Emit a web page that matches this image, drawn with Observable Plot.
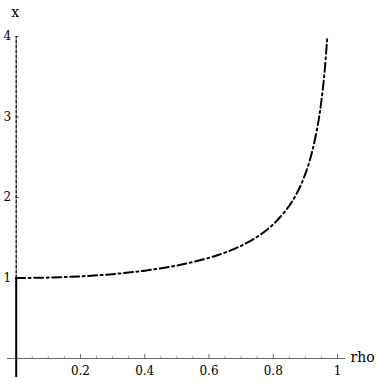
<!DOCTYPE html>
<html>
<head>
<meta charset="utf-8">
<script src="https://cdn.jsdelivr.net/npm/d3@7"></script>
<script src="https://cdn.jsdelivr.net/npm/@observablehq/plot@0.6"></script>
<style>
  html, body { margin: 0; padding: 0; background: #fff; }
  svg { display: block; }
</style>
</head>
<body>
<div id="chart"></div>
<script>
// Curve values
const rho = [0, 0.1, 0.2, 0.3, 0.4, 0.5, 0.6, 0.65, 0.7, 0.75, 0.8, 0.85, 0.88, 0.9, 0.92, 0.94, 0.95, 0.96, 0.968];
const xval = [1, 1.005, 1.021, 1.048, 1.091, 1.155, 1.25, 1.316, 1.4, 1.512, 1.667, 1.898, 2.105, 2.294, 2.552, 2.931, 3.203, 3.571, 3.985];

// Vertical segments at rho = 0
const solidSeg = [-0.22, 1];   // x from below axis to 1
const dashedSeg = [1, 4];      // x from 1 to 4

const xMajor = [0.2, 0.4, 0.6, 0.8, 1];
const xMajorLabels = ["0.2", "0.4", "0.6", "0.8", "1"];
const xMinor = d3.range(1, 21).map(i => i * 0.05).filter(v => !xMajor.some(m => Math.abs(m - v) < 1e-9));
const yMajor = [1, 2, 3, 4];
const yMajorLabels = ["1", "2", "3", "4"];

const curve = rho.map((r, i) => ({r, x: xval[i]}));
const xMajorData = xMajor.map((v, i) => ({v, label: xMajorLabels[i]}));
const yMajorData = yMajor.map((v, i) => ({v, label: yMajorLabels[i]}));

const font = "DejaVu Serif";

const chart = Plot.plot({
  width: 377,
  height: 381,
  marginLeft: 15.7,
  marginRight: 40,
  marginTop: 36,
  marginBottom: 23,
  x: {domain: [0, 1], axis: null},
  y: {domain: [0, 4], axis: null},
  style: {background: "#fff", fontFamily: font},
  marks: [
    // x axis line
    Plot.ruleY([0], {x1: -0.027, x2: 1.025, stroke: "#444", strokeWidth: 0.8}),
    // y axis line
    Plot.ruleX([0], {y1: 0, y2: 4, stroke: "#999", strokeWidth: 0.6}),
    // x ticks
    Plot.ruleX(xMajorData, {x: "v", y1: 0, y2: 0.05, stroke: "#444", strokeWidth: 0.8}),
    Plot.ruleX(xMinor, {y1: 0, y2: 0.028, stroke: "#666", strokeWidth: 0.6}),
    // y ticks
    Plot.ruleY(yMajorData, {y: "v", x1: 0, x2: 0.01, stroke: "#444", strokeWidth: 0.8}),
    // x tick labels
    Plot.text(xMajorData, {x: "v", y: 0, text: "label", dy: 13, fontSize: 12, fontFamily: font, fill: "#000"}),
    // y tick labels
    Plot.text(yMajorData, {x: 0, y: "v", text: "label", dx: -5, textAnchor: "end", fontSize: 12, fontFamily: font, fill: "#000"}),
    // vertical segments at rho = 0
    Plot.line(solidSeg.map(v => ({r: 0, x: v})), {x: "r", y: "x", stroke: "#000", strokeWidth: 2}),
    Plot.line(dashedSeg.map(v => ({r: 0, x: v})), {x: "r", y: "x", stroke: "#000", strokeWidth: 1.2, strokeDasharray: "3,2"}),
    // main curve
    Plot.line(curve, {x: "r", y: "x", curve: "catmull-rom", stroke: "#000", strokeWidth: 2, strokeDasharray: "9,3.5,2,3.5"}),
    // axis titles
    Plot.text(["x"], {x: 0, y: 4, text: d => d, dy: -24, dx: -1, fontSize: 14, fontFamily: font, fill: "#000"}),
    Plot.text(["rho"], {x: 1.025, y: 0, text: d => d, dx: 5, dy: -1, textAnchor: "start", fontSize: 14, fontFamily: font, fill: "#000"})
  ]
});

document.getElementById("chart").appendChild(chart);
</script>
</body>
</html>
